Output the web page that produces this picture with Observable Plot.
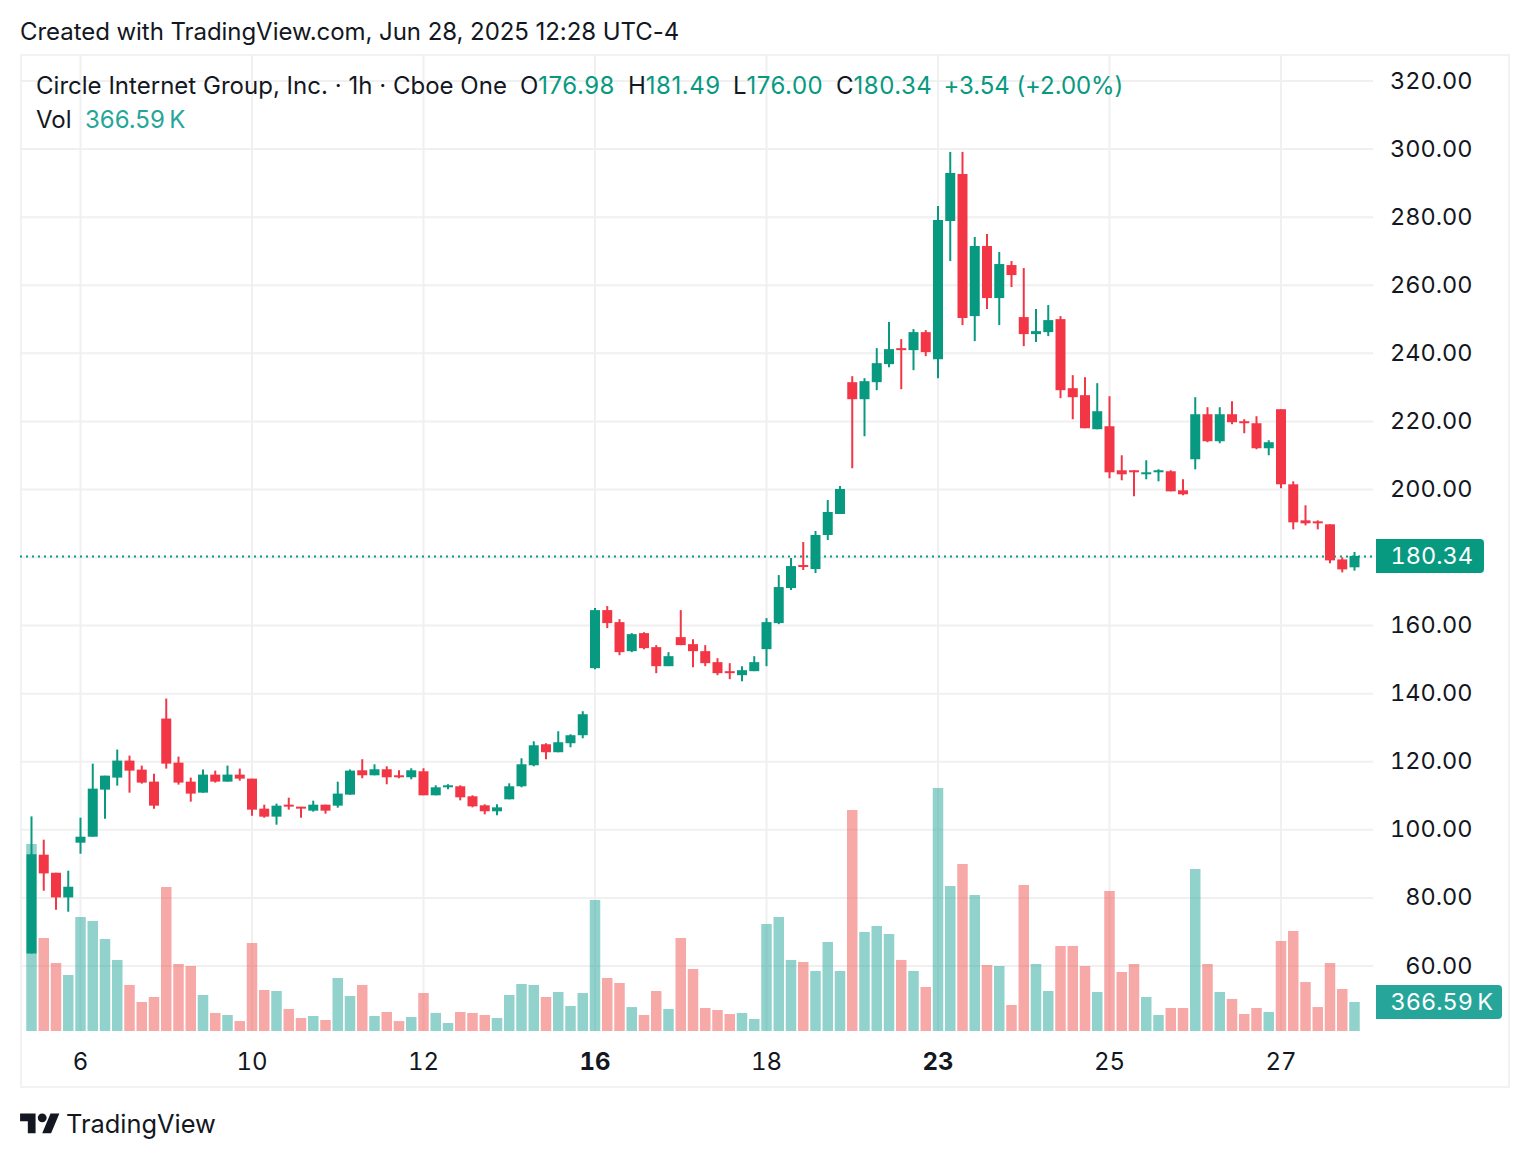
<!DOCTYPE html>
<html><head><meta charset="utf-8">
<script src="https://cdn.jsdelivr.net/npm/d3@7"></script>
<script src="https://cdn.jsdelivr.net/npm/@observablehq/plot@0.6"></script>
<style>
html,body{margin:0;padding:0;background:#fff;width:1530px;height:1158px;overflow:hidden}
body{position:relative;font-family:Inter,"Noto Sans",sans-serif;color:#131722;font-size:24px}
.t{position:absolute;white-space:nowrap;line-height:30px}
.g{color:#089981;letter-spacing:.5px}.v{color:#26a69a}
#frame{position:absolute;left:20px;top:54px;width:1490px;height:1034px;box-sizing:border-box;border:2px solid #f2f2f2}
.layer{position:absolute;left:0;top:54px;width:1530px;height:1034px}
.layer svg{display:block;overflow:visible;background:transparent!important;max-width:none!important}
#price svg{font-variant-numeric:tabular-nums}
.box{position:absolute;left:1376px;height:34px;line-height:34px;color:#fff;border-radius:0 4px 4px 0;box-sizing:border-box;padding-left:14.5px;white-space:nowrap;font-size:23.5px;font-variant-numeric:tabular-nums}
</style></head><body>
<div class="t" style="left:20px;top:17px;letter-spacing:-.055px">Created with TradingView.com, Jun 28, 2025 12:28 UTC-4</div>
<div id="frame"></div>
<div id="vol" class="layer"></div>
<div id="price" class="layer"></div>
<div class="t" style="left:36px;top:71px;letter-spacing:.02px">Circle Internet Group, Inc. · 1h · Cboe One</div>
<div class="t" style="left:520px;top:71px">O<span class="g">176.98</span></div>
<div class="t" style="left:628px;top:71px">H<span class="g">181.49</span></div>
<div class="t" style="left:733px;top:71px">L<span class="g">176.00</span></div>
<div class="t" style="left:836px;top:71px">C<span class="g">180.34</span></div>
<div class="t g" style="left:943.5px;top:71px;letter-spacing:-.07px">+3.54 (+2.00%)</div>
<div class="t" style="left:36px;top:105px">Vol</div>
<div class="t v" style="left:85px;top:105px">366.59&thinsp;K</div>
<div id="pbox" class="box" style="background:#089981">180.34</div>
<div id="vbox" class="box" style="background:#26a69a">366.59&thinsp;K</div>
<svg style="position:absolute;left:20px;top:1108.6px" width="40" height="31" viewBox="0 0 36 28" fill="#131722"><path d="M14 22H7V11H0V4h14v18zM28 22h-8l7.5-18h8L28 22z"/><circle cx="20" cy="8" r="4"/></svg>
<div class="t" style="left:66px;top:1109px;font-size:25.4px">TradingView</div>
<script>
const open = [63.5,92.55,87.25,80,96.08,97.84,111.67,115.2,120.2,117.55,114.02,132.55,119.6,114.02,110.78,116.08,114.02,116.08,114.9,106.08,103.73,107.25,106.67,105.49,107.25,106.96,110.2,117.35,115.88,117.65,115.88,115.3,117.06,110,112.35,112.65,109.71,107.06,105.3,108.82,112.65,118.82,125,122.65,125.3,127.65,147.35,164.41,160.88,152.35,157.65,153.53,147.94,156.47,154.41,152.35,149.12,146.47,145.29,146.47,152.94,160.59,170.88,177.65,176.47,186.47,192.65,231.37,226.37,231.37,236.67,241.37,240.78,246.08,238.14,278.73,292.55,250.78,271.37,256.08,265.78,250.49,245.49,246.08,249.9,229.61,227.55,217.55,218.43,205.49,205.49,204.31,204.9,205.2,199.61,208.73,221.96,214.02,221.96,219.9,219.31,211.96,223.43,201.37,190.78,190.49,189.61,179.3,176.98];
const high = [103.8,96.96,87.25,87.84,103.43,119.3,115.78,123.43,121.67,118.73,116.37,138.43,121.37,115.2,117.55,117.25,118.73,117.84,114.9,107.25,107.55,109.3,106.67,108.43,107.25,114.02,117.55,120.6,119.1,118.53,117.35,117.94,117.94,112.94,113.24,112.94,110,107.35,107.35,113.53,120.88,125.88,125.3,128.82,127.94,134.7,165,165.59,161.76,157.65,157.94,154.12,152.06,164.41,155.88,154.12,150.29,148.82,147.94,150.88,162.06,174.71,179.71,184.41,187.65,196.76,200.88,233.14,232.55,241.37,249.02,244.02,246.96,246.67,283.14,299.02,299.02,274.02,274.9,269.61,266.96,264.9,252.84,254.02,250.78,233.43,232.84,231.08,227.25,209.9,205.49,208.43,205.78,205.49,202.84,226.96,224.02,224.02,225.78,220.49,221.37,214.31,223.43,202.25,195.2,190.78,189.61,179.9,181.49];
const low = [63.5,81.96,76.4,75.8,92.84,97.84,103.14,112.84,110.78,113.43,106.08,117.84,113.14,108.14,110.78,113.73,114.02,114.31,104.02,103.43,101.37,105.78,103.43,105.2,104.6,106.37,110.2,115,115.88,113.24,115,114.7,110,110,111.76,108.53,106.47,104.41,104.12,108.82,112.35,118.53,120.59,122.65,124.12,126.76,147.06,159.12,151.18,152.06,152.94,145.88,147.94,154.12,147.65,147.94,145.29,144.12,143.53,146.47,147.94,160.29,170.29,176.18,175.29,185,192.65,206.08,215.49,229.02,235.78,229.31,234.9,239.02,232.55,266.96,248.14,243.43,252.84,248.14,259.31,241.96,243.14,244.9,226.67,220.49,217.84,217.55,203.14,202.55,197.84,202.84,202.25,199.31,198.14,205.78,213.73,213.43,219.02,216.37,211.67,209.9,200.2,188.14,189.31,188.14,178.14,175.49,176];
const close = [92.65,87.06,80,83.14,97.84,111.96,115.78,120.2,117.25,113.73,106.96,119.3,113.73,110.5,116.08,114.02,116.08,114.9,105.78,103.73,106.96,106.67,106.08,107.25,105.49,110.5,117.25,115.88,117.65,115.3,115.3,117.35,110,112.35,112.94,109.41,106.76,105.3,106.47,112.65,119.12,124.7,122.65,125.59,127.65,133.82,164.41,160.59,152.06,157.35,153.24,147.94,150.88,154.12,152.35,148.82,145.88,145.88,146.76,149.12,160.88,171.18,177.35,177.06,186.47,193.24,200,226.37,231.67,236.96,241.08,240.78,246.08,240.2,279.02,292.84,250.2,271.37,256.08,266.08,262.84,245.49,246.37,249.61,229.02,226.96,217.84,222.84,204.9,204.31,204.9,204.9,205.49,199.31,198.43,221.96,214.02,221.96,219.61,219.31,211.96,213.73,201.37,190.2,189.9,189.9,179.02,176.37,180.34];
const volumeK = [2364,1176,860,708,1441,1391,1163,898,582,367,430,1820,847,822,455,228,202,126,1112,518,506,278,164,190,139,670,442,582,190,240,126,177,480,228,101,240,228,202,164,455,594,582,430,493,316,480,1656,670,607,303,202,506,278,1176,784,291,265,215,228,152,1353,1441,898,872,759,1125,759,2794,1252,1327,1226,898,759,556,3072,1833,2111,1719,834,822,329,1846,847,506,1075,1075,822,493,1770,746,847,430,202,291,291,2048,847,493,405,215,291,240,1138,1264,619,303,860,531,367];
const dayIndex = [4,18,32,46,60,74,88,102];
const dayLabel = ["6","10","12","16","18","23","25","27"];
const boldDays = ["16","23"];
const gridPrices = [60,80,100,120,140,160,180,200,220,240,260,280,300,320];
const axisPrices = [60,80,100,120,140,160,200,220,240,260,280,300,320];
const lastClose = 180.34;

const UP = "#089981", DOWN = "#F23645", VUP = "#26a69a", VDOWN = "#EF5350", GRID = "#f0f0f0", INK = "#131722";
const bars = open.map((o,i)=>({i,open:o,high:high[i],low:low[i],close:close[i],vol:volumeK[i],up:close[i]>=o}));
const days = dayIndex.map((i,k)=>({i,label:dayLabel[k],bold:boldDays.includes(dayLabel[k])}));

const W = 1530, H = 1034;
const common = {width:W,height:H,marginLeft:20,marginRight:157,marginTop:0,marginBottom:57,
  style:{background:"transparent",overflow:"visible"},
  x:{type:"linear",domain:[0,108],range:[31,1354],axis:null}};
const stack = el => {el.style.position="absolute";el.style.left="0";el.style.top="0";return el;};

const priceY = {type:"linear",domain:[60,320],range:[911.5,26.5]};
const gridChart = stack(Plot.plot({...common,y:{...priceY,axis:null},
  marks:[
    Plot.ruleY(gridPrices,{stroke:GRID,strokeWidth:2}),
    Plot.ruleX(dayIndex,{x:d=>d,stroke:GRID,strokeWidth:2})
  ]}));
document.getElementById("vol").append(gridChart);

const volChart = stack(Plot.plot({...common,
  y:{type:"linear",domain:[0,3072],range:[977,734],axis:null},
  marks:[
    Plot.ruleX(bars,{x:"i",y1:0,y2:"vol",strokeWidth:10.5,stroke:d=>d.up?VUP:VDOWN,strokeOpacity:0.5})
  ]}));
document.getElementById("vol").append(volChart);

const priceChart = stack(Plot.plot({...common,y:{...priceY,axis:null},
  marks:[
    Plot.ruleY([lastClose],{stroke:UP,strokeWidth:2,strokeDasharray:"2 4"}),
    Plot.ruleX(bars,{x:"i",y1:"low",y2:"high",strokeWidth:2,stroke:d=>d.up?UP:DOWN}),
    Plot.ruleX(bars,{x:"i",y1:"open",y2:"close",strokeWidth:10,stroke:d=>d.up?UP:DOWN}),
    Plot.axisY(axisPrices,{anchor:"right",tickSize:0,tickPadding:99,textAnchor:"end",tickFormat:d3.format(".2f"),label:null,fontSize:23.5,fontFamily:"Inter",fill:INK}),
    Plot.text(days.filter(d=>!d.bold),{x:"i",text:"label",frameAnchor:"bottom",dy:38,fontSize:24,fontFamily:"Inter",fill:INK}),
    Plot.text(days.filter(d=>d.bold),{x:"i",text:"label",frameAnchor:"bottom",dy:38,fontSize:24,fontFamily:"Inter",fontWeight:700,fill:INK})
  ]}));
document.getElementById("price").append(priceChart);

const py = priceChart.scale("y").apply(lastClose) + 54;
const pb = document.getElementById("pbox");
pb.style.top = (py-17)+"px"; pb.style.width="108px";
const vb = document.getElementById("vbox");
vb.style.top = (volChart.scale("y").apply(volumeK[108])+54-17)+"px"; vb.style.width="126px";
</script>
</body></html>
